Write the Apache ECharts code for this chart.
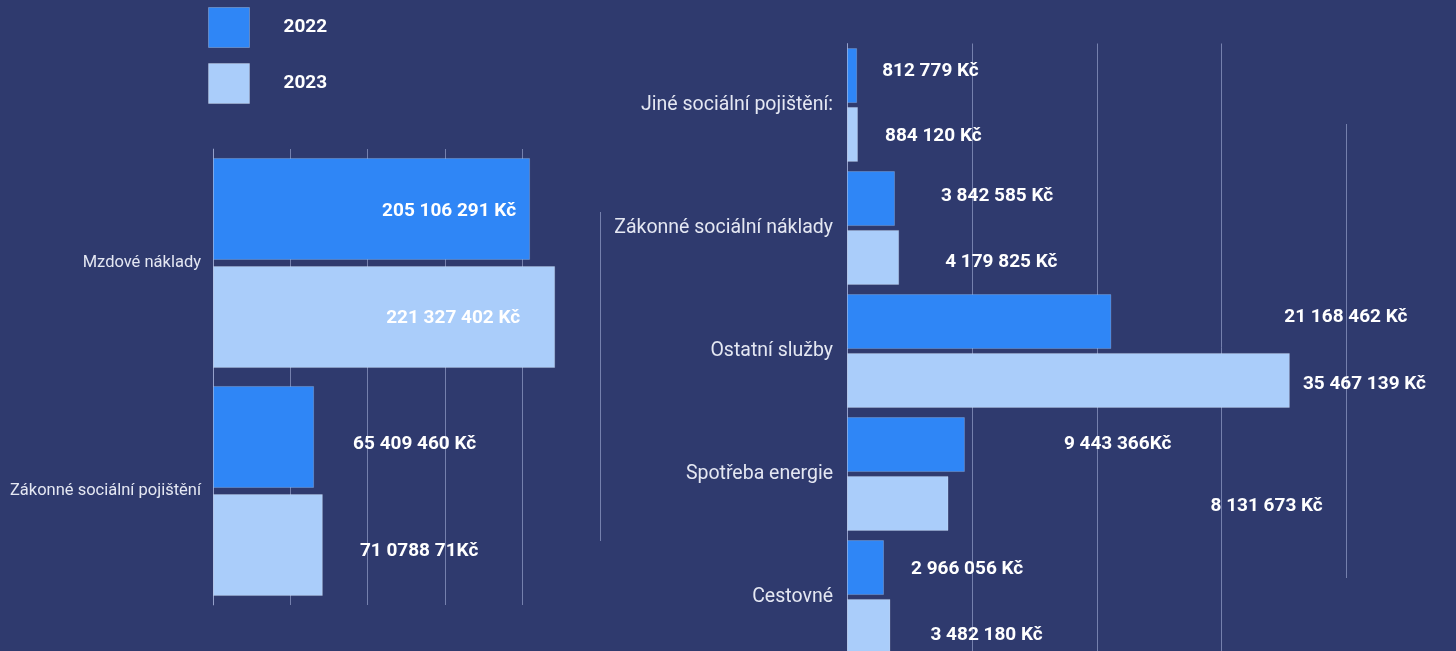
<!DOCTYPE html>
<html>
<head>
<meta charset="utf-8">
<script src="https://cdn.jsdelivr.net/npm/echarts@6/dist/echarts.min.js"></script>
<style>
html,body{margin:0;padding:0;background:#2f3a6e;}
#c{width:1456px;height:651px;}
</style>
</head>
<body>
<div id="c"></div>
<script>
// ---- data ----
const seriesNames = ['2022', '2023'];

const leftCategories = ['Mzdové náklady', 'Zákonné sociální pojištění'];
const left2022 = [205106291, 65409460];
const left2023 = [221327402, 71078871];
const left2022Labels = ['205 106 291 Kč', '65 409 460 Kč'];
const left2023Labels = ['221 327 402 Kč', '71 0788 71Kč'];

const rightCategories = ['Jiné sociální pojištění:', 'Zákonné sociální náklady', 'Ostatní služby', 'Spotřeba energie', 'Cestovné'];
const right2022 = [812779, 3842585, 21168462, 9443366, 2966056];
const right2023 = [884120, 4179825, 35467139, 8131673, 3482180];
const right2022Labels = ['812 779 Kč', '3 842 585 Kč', '21 168 462 Kč', '9 443 366Kč', '2 966 056 Kč'];
const right2023Labels = ['884 120 Kč', '4 179 825 Kč', '35 467 139 Kč', '8 131 673 Kč', '3 482 180 Kč'];

// ---- styles (label placement per item) ----
const C2022 = '#2f86f6';
const C2023 = '#aacdfa';
const BG = '#2f3a6e';
const GRID_COL = 'rgba(175,185,225,0.55)';

const leftOff2022 = [{pos:'insideRight', off:[-14,2]}, {pos:'right', off:[39,7]}];
const leftOff2023 = [{pos:'insideRight', off:[-35,1]}, {pos:'right', off:[37,6]}];
const rightOff2022 = [[25,-4],[46,-2],[173,-4],[99,0],[27,2]];
const rightOff2023 = [[27,2],[46,5],[13,4],[262,3],[40,9]];

function buildLeft(vals, labels, offs){
  return vals.map((v,i)=>({value:v, label:{show:true, position:offs[i].pos, offset:offs[i].off, distance:0, formatter:labels[i]}}));
}
function buildRight(vals, labels, offs){
  return vals.map((v,i)=>({value:v, label:{show:true, position:'right', offset:offs[i], distance:0, formatter:labels[i]}}));
}

const valueLabel = {color:'#ffffff', fontFamily:'Roboto', fontWeight:'bold', fontSize:19};

const chart = echarts.init(document.getElementById('c'), null, {renderer:'canvas'});
const option = {
  backgroundColor: BG,
  animation: false,
  legend: {
    orient: 'vertical',
    left: 208, top: 7, padding: 0,
    itemWidth: 41, itemHeight: 40, itemGap: 15,
    icon: 'rect',
    data: seriesNames,
    textStyle: {color:'#ffffff', fontFamily:'Roboto', fontWeight:'bold', fontSize:19, padding:[2,0,0,29]},
    itemStyle: {borderColor:'rgba(255,255,255,0.25)', borderWidth:1}
  },
  grid: [
    {left:213, top:149, width:386.5, height:456, containLabel:false, outerBoundsMode:'none'},
    {left:847, top:43.5, width:499.5, height:615, containLabel:false, outerBoundsMode:'none'}
  ],
  xAxis: [
    {gridIndex:0, type:'value', min:0, max:250000000, interval:50000000,
     axisLabel:{show:false}, axisLine:{show:false}, axisTick:{show:false},
     splitLine:{show:true, showMaxLine:false, lineStyle:{color:GRID_COL, width:1}}},
    {gridIndex:1, type:'value', min:0, max:40000000, interval:10000000,
     axisLabel:{show:false}, axisLine:{show:false}, axisTick:{show:false},
     splitLine:{show:true, showMaxLine:false, lineStyle:{color:GRID_COL, width:1}}}
  ],
  yAxis: [
    {gridIndex:0, type:'category', inverse:true, data:leftCategories,
     axisLine:{show:true, lineStyle:{color:GRID_COL}}, axisTick:{show:false},
     axisLabel:{color:'#e4e7f2', fontFamily:'Roboto', fontSize:16.5, margin:12}},
    {gridIndex:1, type:'category', inverse:true, data:rightCategories,
     axisLine:{show:true, lineStyle:{color:GRID_COL}}, axisTick:{show:false},
     axisLabel:{color:'#e4e7f2', fontFamily:'Roboto', fontSize:19.5, margin:14}}
  ],
  series: [
    {name:seriesNames[0], type:'bar', xAxisIndex:0, yAxisIndex:0, barWidth:102, barGap:'6%',
     itemStyle:{color:C2022, borderColor:'rgba(255,255,255,0.2)', borderWidth:1},
     label:valueLabel, data:buildLeft(left2022, left2022Labels, leftOff2022)},
    {name:seriesNames[1], type:'bar', xAxisIndex:0, yAxisIndex:0, barWidth:102, barGap:'6%',
     itemStyle:{color:C2023, borderColor:'rgba(255,255,255,0.2)', borderWidth:1},
     label:valueLabel, data:buildLeft(left2023, left2023Labels, leftOff2023)},
    {name:seriesNames[0], type:'bar', xAxisIndex:1, yAxisIndex:1, barWidth:55, barGap:'7%',
     itemStyle:{color:C2022, borderColor:'rgba(255,255,255,0.2)', borderWidth:1},
     label:valueLabel, data:buildRight(right2022, right2022Labels, rightOff2022)},
    {name:seriesNames[1], type:'bar', xAxisIndex:1, yAxisIndex:1, barWidth:55, barGap:'7%',
     itemStyle:{color:C2023, borderColor:'rgba(255,255,255,0.2)', borderWidth:1},
     label:valueLabel, data:buildRight(right2023, right2023Labels, rightOff2023)}
  ],
  graphic: [
    {type:'line', shape:{x1:600.5, y1:212, x2:600.5, y2:541}, style:{stroke:GRID_COL, lineWidth:1}, silent:true},
    {type:'line', shape:{x1:1346.5, y1:124, x2:1346.5, y2:578}, style:{stroke:GRID_COL, lineWidth:1}, silent:true}
  ]
};
chart.setOption(option);
</script>
</body>
</html>
